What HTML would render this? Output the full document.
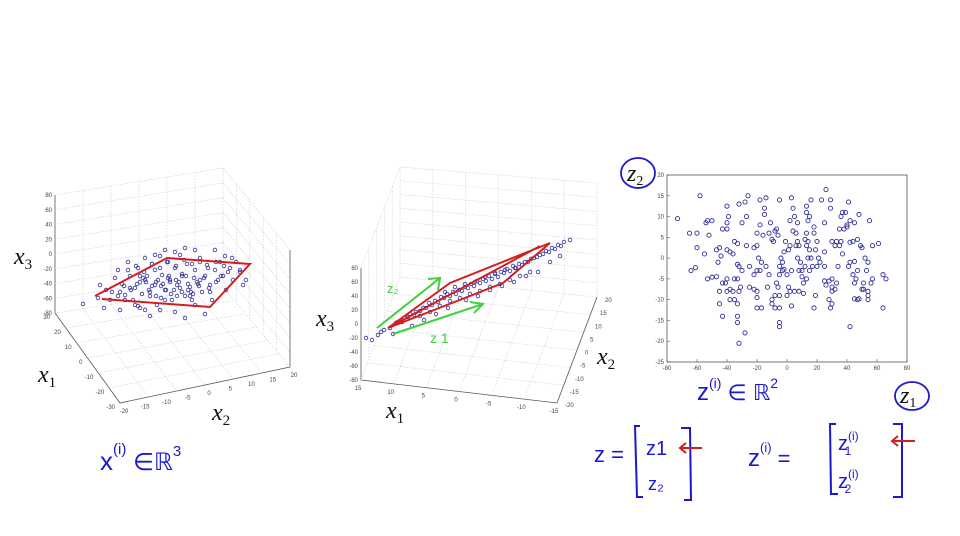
<!DOCTYPE html>
<html><head><meta charset="utf-8"><style>
html,body{margin:0;padding:0;background:#fff;}
svg{display:block;}
.tk{font-family:"Liberation Sans",sans-serif;font-size:6px;fill:#444;}
.lbl{font-family:"Liberation Serif",serif;font-style:italic;font-size:24px;fill:#111;}
.hw{font-family:"Liberation Sans",sans-serif;fill:#1a1acc;}
.grid{stroke:#ccc;stroke-width:0.6;stroke-dasharray:1.5 1.5;fill:none;}
.ax{stroke:#555;stroke-width:0.8;fill:none;}
</style></head><body>
<svg id="root" width="960" height="536" viewBox="0 0 960 536" xmlns="http://www.w3.org/2000/svg">
<g id="left3d">
  <polyline class="ax" points="55,195 55,313 120,403 290,367 290,250"/>
  <polyline class="grid" points="55,195 223,168 290,250"/>
  <polyline class="grid" points="55,313 223,287 290,367"/>
  <line class="grid" x1="223" y1="168" x2="223" y2="287"/>
  <g id="leftGrid"></g>
  <g id="leftTicks"></g>
  <g id="leftPts"></g>
  <polyline points="95,296 167,258 250,264 210,307 102,299" fill="none" stroke="#d21e1e" stroke-width="2"/>
  <text class="lbl" x="14" y="264">x<tspan font-size="15" dy="5" font-style="normal">3</tspan></text>
  <text class="lbl" x="38" y="382">x<tspan font-size="15" dy="5" font-style="normal">1</tspan></text>
  <text class="lbl" x="212" y="420">x<tspan font-size="15" dy="5" font-style="normal">2</tspan></text>
</g>
<g id="mid3d">
  <polyline class="ax" points="361,268 361,380 557,403 597,297"/>
  <polyline class="grid" points="361,268 400,167 597,183 597,297"/>
  <polyline class="grid" points="361,380 400,277 597,297"/>
  <line class="grid" x1="400" y1="167" x2="400" y2="277"/>
  <g id="midGrid"></g>
  <g id="midTicks"></g>
  <g id="midPts"></g>
  <polyline points="388,328 450,283 550,243 503,283 388,328 540,246" fill="none" stroke="#d21e1e" stroke-width="2"/>
  <path d="M377,328 L440,278 M428,279 L440,278 L438,290 M393,334 L483,304 M470,302 L483,304 L474,313" fill="none" stroke="#3ed23e" stroke-width="2"/>
  <text x="387" y="293" font-family="Liberation Sans,sans-serif" font-size="13" fill="#3ed23e">z₂</text>
  <text x="430" y="343" font-family="Liberation Sans,sans-serif" font-size="14" fill="#3ed23e">z 1</text>
  <text class="lbl" x="316" y="326">x<tspan font-size="15" dy="5" font-style="normal">3</tspan></text>
  <text class="lbl" x="386" y="418">x<tspan font-size="15" dy="5" font-style="normal">1</tspan></text>
  <text class="lbl" x="597" y="364">x<tspan font-size="15" dy="5" font-style="normal">2</tspan></text>
</g>
<g id="scatter">
  <rect x="667" y="175" width="240" height="187" fill="none" stroke="#555" stroke-width="0.8"/>
  <g id="sTicks"></g>
  <g id="sPts"></g>
  <ellipse cx="638" cy="173" rx="17" ry="15" fill="none" stroke="#1a1acc" stroke-width="1.8"/>
  <text class="lbl" x="627" y="181" font-size="22">z<tspan font-size="14" dy="4" font-style="normal">2</tspan></text>
  <ellipse cx="912" cy="396" rx="17" ry="14" fill="none" stroke="#1a1acc" stroke-width="1.8"/>
  <text class="lbl" x="900" y="403" font-size="22">z<tspan font-size="14" dy="4" font-style="normal">1</tspan></text>
</g>
<g>
  <text class="hw" x="100" y="470" font-size="26">x<tspan font-size="15" dy="-16">(i)</tspan><tspan dy="16" font-size="24"> ∈ℝ</tspan><tspan font-size="15" dy="-14">3</tspan></text>
  <text class="hw" x="697" y="400" font-size="24">z<tspan font-size="14" dy="-12">(i)</tspan><tspan dy="12" font-size="22"> ∈ ℝ</tspan><tspan font-size="14" dy="-12">2</tspan></text>
  <text class="hw" x="594" y="462" font-size="22">z =</text>
  <path d="M640,426 L635,426 L637,497 L643,497 M681,428 L690,428 L691,500 L684,500" fill="none" stroke="#1a1acc" stroke-width="2"/>
  <text class="hw" x="646" y="455" font-size="20">z1</text>
  <text class="hw" x="648" y="490" font-size="18">z₂</text>
  <path d="M702,448 L680,448 M686,443 L680,448 L686,453" fill="none" stroke="#d21e1e" stroke-width="2"/>
  <text class="hw" x="748" y="466" font-size="24">z<tspan font-size="13" dy="-14">(i)</tspan><tspan dy="14" font-size="22"> =</tspan></text>
  <path d="M836,424 L830,424 L831,494 L838,494 M893,424 L902,424 L902,497 L893,497" fill="none" stroke="#1a1acc" stroke-width="2"/>
  <text class="hw" x="838" y="450" font-size="20">z<tspan font-size="12" dy="-10">(i)</tspan><tspan font-size="12" dx="-14" dy="15">1</tspan></text>
  <text class="hw" x="838" y="488" font-size="20">z<tspan font-size="12" dy="-10">(i)</tspan><tspan font-size="12" dx="-14" dy="15">2</tspan></text>
  <path d="M915,441 L892,441 M898,436 L892,441 L898,446" fill="none" stroke="#d21e1e" stroke-width="2"/>
</g>
</svg>
<script>
const z1Vals=[-73,-58,-65,-60,-60,-64,-61,-55,-53,-50,-54,-52,-53,-50,-47,-47,-45,-44,-46,-45,-45,-43,-43,-41,-40,-40,-38,-38,-35,-36,-40,-39,-40,-40,-43,-40,-38,-36,-35,-33,-33,-32,-30,-33,-35,-31,-32,-33,-33,-33,-32,-28,-32,-28,-26,-27,-30,-27,-25,-25,-22,-20,-20,-17,-20,-22,-20,-18,-17,-19,-22,-20,-20,-18,-15,-15,-18,-14,-16,-12,-11,-10,-9,-8,-7,-6,-14,-12,-13,-10,-10,-8,-5,-5,-8,-7,-6,-5,-5,-3,-3,-2,0,-4,-2,-1,1,2,-5,-5,-5,3,2,4,5,7,4,6,7,6,8,7,9,8,10,10,12,13,15,17,11,11,8,5,2,3,0,1,3,12,14,13,14,16,15,13,14,15,13,13,16,18,18,20,19,20,21,18,19,22,25,25,25,26,25,23,26,29,29,28,30,30,30,28,30,29,32,33,34,35,32,30,33,36,37,35,37,36,38,40,39,40,41,42,42,44,41,42,45,44,46,45,47,48,45,42,47,47,45,48,49,50,52,54,51,51,50,54,54,54,56,57,55,57,61,64,66,64,53];
const z2Vals=[9.5,15,6,6,2.5,-3,-2.3,1,9,9,8.5,5.5,-5,-4.6,-4.5,2,2.5,0.5,-1,-8,-11,-14,-6,-6,-5,-8,-7.5,-10,-10,-8,12.5,10,7,8.5,7,2,1.5,1,4,3.5,-1.5,-2,-3,-5,-5,-7,-8,-11,-14,-15.5,-20.5,-18,13,13.5,15,10,8.5,3,-2,-7,-7.5,-8,-12,-12,-9.5,-4,-3,-3,-1,0,2.5,3,6,8,10.5,12,14,14.5,5.5,6,8.5,4.5,4,6.5,7,5.5,-2,-4,-7,-10,-11,-12,-12,-9,-9,-6,-7,-4,-2,-3,-1,-2.7,-4,0,1.5,4,2,3,-15.5,-16.5,14,14.5,9,12,10,8.5,6.5,6,4,3,3,0,-1,-3,-3,-4.5,-2,-5,-3,-2,-6,-8.5,-8,-8,-8,-11.5,-9,-7,-3,4.5,4,3,0,0,2,6,9,10,11,12.5,14,6,7.5,4,2,-2,0,-12,-9,-1,-2,1.5,-5.5,-6.5,8.5,14,16.5,14,12,-5.5,-5,-7,-8,-10,-11,-12,-7.5,-6,-2,3,3,4,4,4,1,7,11,10,7,8,11,7.5,13.5,9,3.8,4,-2,-1,-0.8,-4,-5,-6,-3,-9.8,-9.8,-16.5,-10,4.5,8.5,10.5,3,2.5,0,-1,-6,-7.5,-7.5,-8,-9,-10,-6,-5,9,3,3.5,-4,-5,-12,-3];
const xTickLabels=["-80","-60","-40","-20","0","20","40","60","80"];
const yTickLabels=["20","15","10","5","0","-5","-10","-15","-20","-25"];
const xDomain=[-80,80], yDomain=[-25,20];
const PX={l:667,r:907,t:175,b:362};
const NS="http://www.w3.org/2000/svg";
function sx(v){return PX.l+(v-xDomain[0])/(xDomain[1]-xDomain[0])*(PX.r-PX.l);}
function sy(v){return PX.b-(v-yDomain[0])/(yDomain[1]-yDomain[0])*(PX.b-PX.t);}
function mk(tag,attrs,parent){const e=document.createElementNS(NS,tag);for(const k in attrs)e.setAttribute(k,attrs[k]);parent.appendChild(e);return e;}
const sT=document.getElementById('sTicks');
xTickLabels.forEach(t=>{const v=+t;
  const l=mk('line',{x1:sx(v),x2:sx(v),y1:PX.b,y2:PX.b-3,stroke:'#555','stroke-width':0.6},sT);
  
  
  const tx=mk('text',{x:sx(v),y:PX.b+8,'text-anchor':'middle',class:'tk'},sT);tx.textContent=t;
  
  
});
yTickLabels.forEach(t=>{const v=+t;
  const l=mk('line',{x1:PX.l,x2:PX.l+3,y1:sy(v),y2:sy(v),stroke:'#555','stroke-width':0.6},sT);
  
  
  const tx=mk('text',{x:PX.l-3,y:sy(v)+2,'text-anchor':'end',class:'tk'},sT);tx.textContent=t;
  
  
});
const sP=document.getElementById('sPts');
z1Vals.forEach((v,i)=>{
  const c=mk('circle',{cx:sx(v),cy:sy(z2Vals[i]),r:2.1,fill:'none',stroke:'#30309a','stroke-width':0.9},sP);
  
  
});
function lerp(a,b,t){return [a[0]+(b[0]-a[0])*t,a[1]+(b[1]-a[1])*t];}
function gridLines(g,A,B,C,D,n){for(let i=1;i<n;i++){const p=lerp(A,B,i/n),q=lerp(C,D,i/n);
  const l=mk('line',{x1:p[0],y1:p[1],x2:q[0],y2:q[1],class:'grid'},g);
  
  }}
function ticks(g,A,B,labels,dx,dy,anchor){labels.forEach((t,i)=>{const p=lerp(A,B,i/(labels.length-1));
  const tx=mk('text',{x:p[0]+dx,y:p[1]+dy,'text-anchor':anchor,class:'tk'},g);tx.textContent=t;
  
  });}
const lx3=["80","60","40","20","0","-20","-40","-60","-80"];
const lx1=["30","20","10","0","-10","-20","-30"];
const lx2=["-20","-15","-10","-5","0","5","10","15","20"];
const mx1=["15","10","5","0","-5","-10","-15"];
const mx2=["-20","-15","-10","-5","0","5","10","15","20"];
const lg=document.getElementById('leftGrid');
gridLines(lg,[55,195],[223,168],[55,313],[223,287],6);
gridLines(lg,[55,195],[55,313],[223,168],[223,287],8);
gridLines(lg,[223,168],[290,250],[223,287],[290,367],5);
gridLines(lg,[223,168],[223,287],[290,250],[290,367],8);
gridLines(lg,[55,313],[223,287],[120,403],[290,367],6);
gridLines(lg,[55,313],[120,403],[223,287],[290,367],6);
const lt=document.getElementById('leftTicks');
ticks(lt,[55,195],[55,313],lx3,-3,2,'end');
ticks(lt,[55,316],[120,406],lx1,-5,3,'end');
ticks(lt,[122,406],[292,370],lx2,2,7,'middle');
const mg=document.getElementById('midGrid');
gridLines(mg,[400,167],[597,183],[400,277],[597,297],6);
gridLines(mg,[400,167],[400,277],[597,183],[597,297],8);
gridLines(mg,[361,268],[400,167],[361,380],[400,277],5);
gridLines(mg,[361,380],[400,277],[557,403],[597,297],6);
gridLines(mg,[361,380],[557,403],[400,277],[597,297],6);
const mt=document.getElementById('midTicks');
ticks(mt,[361,268],[361,380],lx3,-3,2,'end');
ticks(mt,[358,390],[554,413],mx1,0,0,'middle');
ticks(mt,[560,405],[600,300],mx2,5,2,'start');
const leftCloudX=[83,100,106,110,115,118,122,125,128,130,133,135,138,140,142,145,147,150,152,155,157,160,162,165,167,170,172,175,177,180,182,185,187,190,192,195,197,200,202,205,207,210,212,215,218,220,223,226,230,233,236,240,243,160,150,140,175,185,195,205,130,120,170,180,190,200,210,155,145,165,135,125,215,225,195,185,175,165,155,145,
 112,118,124,131,137,143,149,156,161,168,174,179,186,191,198,204,209,216,221,228,140,146,152,158,163,169,176,182,188,194,150,156,161,166,171,177,182,188,193,199,128,136,144,152,160,168,176,184,192,200,208,216,224,232,240,246,98,104,120,138];
const leftCloudY=[304,285,290,300,278,270,284,295,262,276,300,288,268,282,294,258,276,296,264,285,305,256,275,290,262,282,300,268,285,255,276,296,264,287,300,270,282,258,292,276,265,285,300,270,280,262,276,290,268,280,262,272,285,310,316,308,312,318,305,314,288,292,280,288,296,280,292,270,280,300,305,300,250,256,250,248,252,250,255,310,
 292,296,286,290,284,278,290,282,286,278,290,282,276,292,284,278,288,282,276,272,276,282,286,280,284,276,280,274,284,278,292,296,298,290,294,296,292,290,294,286,270,266,272,264,268,262,266,260,264,262,268,262,266,258,270,280,298,308,310,306];
const midCloudX=[372,378,384,390,396,402,408,414,420,426,432,438,444,450,456,462,468,474,480,486,492,498,504,510,516,522,528,534,540,546,552,558,564,570,420,430,440,450,460,470,480,490,500,510,520,530,445,455,465,475,485,495,505,515,
 398,404,410,416,423,429,435,441,447,453,459,465,471,477,483,489,495,501,507,513,519,525,531,537,543,549,555,561,412,424,436,448,466,478,490,502,514,526,538,550,560,366,381,393];
const midCloudY=[340,335,330,328,323,322,317,315,311,308,305,302,298,296,294,291,288,286,283,281,279,277,273,271,268,265,262,258,255,251,248,245,242,240,316,312,306,301,298,294,291,287,284,280,276,272,292,287,284,282,277,274,270,268,
 322,318,314,312,308,303,301,297,294,292,290,287,284,281,279,276,273,272,269,266,264,262,259,257,254,252,249,246,326,320,314,308,300,296,290,286,282,276,272,262,256,338,332,334];
const lp=document.getElementById('leftPts');
leftCloudX.forEach((x,i)=>{const c=mk('circle',{cx:x,cy:leftCloudY[i],r:1.8,fill:'none',stroke:'#3030a0','stroke-width':0.8},lp);
  
  });
const mp=document.getElementById('midPts');
midCloudX.forEach((x,i)=>{const c=mk('circle',{cx:x,cy:midCloudY[i],r:1.8,fill:'none',stroke:'#3030a0','stroke-width':0.8},mp);
  
  });
</script>
</body></html>
